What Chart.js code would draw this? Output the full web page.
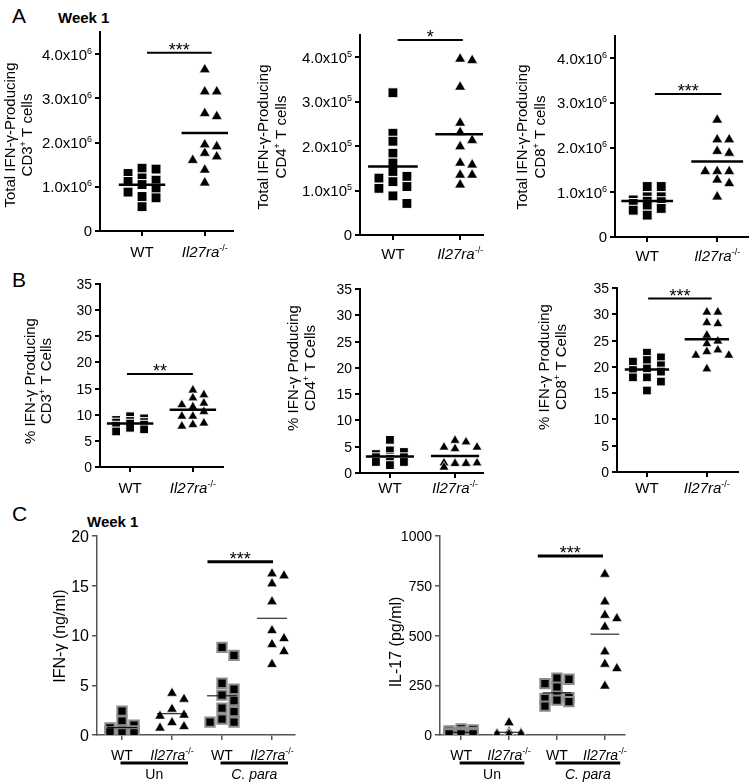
<!DOCTYPE html>
<html>
<head>
<meta charset="utf-8">
<script src="https://cdn.jsdelivr.net/npm/chart.js@4.4.1/dist/chart.umd.min.js"></script>
<style>
html, body { margin: 0; padding: 0; background: #fff; }
#wrap { position: relative; width: 752px; height: 784px; overflow: hidden; font-family: "Liberation Sans", Arial, sans-serif; color: #000; }
#wrap canvas { position: absolute; left: 0; top: 0; }
.tag { position: absolute; line-height: 1; white-space: nowrap; }
</style>
</head>
<body>
<div id="wrap">
  <div class="tag" style="left:12px;top:5px;font-size:21px">A</div>
  <div class="tag" style="left:58px;top:10px;font-size:15px;font-weight:bold">Week 1</div>
  <div class="tag" style="left:12px;top:269px;font-size:21px">B</div>
  <div class="tag" style="left:12px;top:503px;font-size:21px">C</div>
  <div class="tag" style="left:87px;top:514px;font-size:15px;font-weight:bold">Week 1</div>
</div>
<script>
/* ---------- DATA ---------- */
const groupsAB = ["WT", "_Il27ra_^-/-^"];
const groupsC = ["WT", "_Il27ra_^-/-^", "WT", "_Il27ra_^-/-^"];

// A: total IFN-γ producing cells (CD3, CD8 in x10^6, CD4 in x10^5)
const cd3TotalWt = [1.42, 1.40, 1.30, 1.20, 1.15, 1.12, 1.05, 0.95, 0.88, 0.78, 0.75, 0.55];
const cd3TotalKo = [3.65, 3.15, 3.15, 2.66, 2.59, 1.95, 1.91, 1.76, 1.68, 1.60, 1.38, 1.09];
const cd4TotalWt = [3.20, 2.29, 2.11, 1.84, 1.62, 1.43, 1.32, 1.28, 1.20, 1.09, 1.05, 0.88, 0.71];
const cd4TotalKo = [3.96, 3.93, 3.33, 2.52, 2.31, 2.13, 1.99, 1.62, 1.58, 1.35, 1.35, 1.13];
const cd8TotalWt = [1.13, 1.13, 0.90, 0.90, 0.83, 0.80, 0.79, 0.75, 0.71, 0.64, 0.60, 0.49];
const cd8TotalKo = [2.62, 2.18, 2.18, 1.92, 1.88, 1.47, 1.47, 1.47, 1.28, 1.20, 0.90];
const ticksTotal = [0, 1, 2, 3, 4];

// B: % IFN-γ producing
const cd3PctWt = [9.7, 9.3, 9.0, 8.8, 8.6, 8.5, 8.3, 8.1, 7.9, 7.5, 7.2, 6.8];
const cd3PctKo = [14.7, 13.8, 13.2, 12.2, 11.9, 11.5, 10.6, 9.7, 9.7, 8.4, 8.1, 7.8];
const cd4PctWt = [6.3, 4.3, 4.0, 3.6, 3.0, 3.0, 3.0, 2.7, 2.1, 2.1, 2.1, 1.5];
const cd4PctKo = [6.2, 5.9, 4.9, 4.9, 4.6, 1.9, 1.9, 1.9, 1.9, 1.8, 1.8, 1.1];
const cd8PctWt = [22.7, 21.8, 21.3, 21.0, 20.3, 19.7, 19.4, 19.1, 18.0, 18.0, 17.2, 15.5];
const cd8PctKo = [30.4, 30.4, 28.4, 28.2, 26.0, 24.9, 24.4, 23.2, 22.9, 22.2, 22.2, 19.6];
const ticksPct = [0, 5, 10, 15, 20, 25, 30, 35];

// C: cytokines, Un vs C. para
const ifngUnWt = [2.4, 1.4, 1.0, 0.7, 0.5, 0.4, 0.3, 0.3, 0.2, 0.2];
const ifngUnKo = [4.2, 3.6, 2.6, 2.0, 1.9, 1.25, 0.85, 0.7];
const ifngCpWt = [8.8, 8.0, 5.2, 4.6, 4.0, 3.45, 2.7, 2.35, 1.6, 1.3, 1.3];
const ifngCpKo = [16.2, 16.0, 15.2, 13.4, 10.5, 9.7, 9.1, 8.4, 7.1];
const ticksIfng = [0, 5, 10, 15, 20];

const il17UnWt = [30, 25, 20, 15, 12, 10, 8, 6, 5, 5];
const il17UnKo = [62, 15, 10, 8, 5, 5, 3, 3];
const il17CpWt = [285, 280, 258, 240, 195, 188, 182, 175, 168, 145];
const il17CpKo = [808, 669, 602, 585, 543, 418, 356, 334, 246];
const ticksIl17 = [0, 250, 500, 750, 1000];

// significance bars: from/to in group units, y in data units
const sigCd3Total = { from: 1.08, to: 2.11, y: 4.03, label: "***" };
const sigCd4Total = { from: 1.07, to: 2.04, y: 4.39, label: "*" };
const sigCd8Total = { from: 1.11, to: 2.06, y: 3.2, label: "***" };
const sigCd3Pct = { from: 0.95, to: 2.0, y: 17.8, label: "**" };
const sigCd8Pct = { from: 1.02, to: 2.08, y: 33.0, label: "***" };
const sigIfng = { from: 2.71, to: 4.02, y: 17.4, label: "***" };
const sigIl17 = { from: 2.6, to: 3.96, y: 900, label: "***" };

const treatC = [{ text: "Un", from: 1, to: 2 }, { text: "_C. para_", from: 3, to: 4 }];

/* ---------- STYLES ---------- */
const FONT = '"Liberation Sans", Arial, Helvetica, sans-serif';
const styles = {
    A: { axis: "#000", axisW: 2, sqR: 7, sqBorder: "#fff", sqBorderW: 1, triR: 6.2, meanW: 2.5, meanHalf: 0.37, sigW: 2,
         sqStep: 7, sqK: 4, triStep: 12, triK: 2, gap: 8 },
    B: { axis: "#000", axisW: 2, sqR: 6.2, sqBorder: "#fff", sqBorderW: 1, triR: 5.6, meanW: 2.5, meanHalf: 0.37, sigW: 2,
         sqStep: 7, sqK: 4, triStep: 11, triK: 3, gap: 7 },
    C: { axis: "#555", axisW: 1.5, sqR: 6.6, sqBorder: "#8a8a8a", sqBorderW: 2, triR: 6, meanW: 1, meanHalf: 0.3, sigW: 3,
         sqStep: 12, sqK: 2, triStep: 12, triK: 2, gap: 8 }
};

const sciFmt = exp => v => v ? v.toFixed(1) + "x10^" + exp + "^" : "0";
const plainFmt = v => String(v);

const panels = [
    { style: "A", groups: [cd3TotalWt, cd3TotalKo], names: groupsAB, shapes: ["rect", "triangle"],
      box: [100, 32, 233, 231], xRange: [0.33, 2.45], yMax: 4.5, yTicks: ticksTotal, fmt: sciFmt(6), tickSize: 15,
      title: ["Total IFN-γ-Producing", "CD3^+^ T cells"], titleX: [10, 27], titleY: 135, titleSize: 15,
      labelY: 252, labelSize: 15, sig: sigCd3Total },
    { style: "A", groups: [cd4TotalWt, cd4TotalKo], names: groupsAB, shapes: ["rect", "triangle"],
      box: [360, 35, 483, 235], xRange: [0.51, 2.34], yMax: 4.5, yTicks: ticksTotal, fmt: sciFmt(5), tickSize: 15,
      title: ["Total IFN-γ-Producing", "CD4^+^ T cells"], titleX: [263, 281], titleY: 137, titleSize: 15,
      labelY: 254, labelSize: 15, sig: sigCd4Total },
    { style: "A", groups: [cd8TotalWt, cd8TotalKo], names: groupsAB, shapes: ["rect", "triangle"],
      box: [615, 36, 748, 237], xRange: [0.54, 2.44], yMax: 4.5, yTicks: ticksTotal, fmt: sciFmt(6), tickSize: 15,
      title: ["Total IFN-γ-Producing", "CD8^+^ T cells"], titleX: [522, 540], titleY: 137, titleSize: 15,
      labelY: 256, labelSize: 15, sig: sigCd8Total },
    { style: "B", groups: [cd3PctWt, cd3PctKo], names: groupsAB, shapes: ["rect", "triangle"],
      box: [100, 284, 223, 467], xRange: [0.52, 2.48], yMax: 35, yTicks: ticksPct, fmt: plainFmt, tickSize: 14,
      title: ["% IFN-γ Producing", "CD3^+^ T Cells"], titleX: [30, 46], titleY: 381, titleSize: 15,
      labelY: 488, labelSize: 15, sig: sigCd3Pct },
    { style: "B", groups: [cd4PctWt, cd4PctKo], names: groupsAB, shapes: ["rect", "triangle"],
      box: [360, 289, 483, 473], xRange: [0.54, 2.43], yMax: 35, yTicks: ticksPct, fmt: plainFmt, tickSize: 14,
      title: ["% IFN-γ Producing", "CD4^+^ T Cells"], titleX: [293, 310], titleY: 368, titleSize: 15,
      labelY: 488, labelSize: 15, sig: null },
    { style: "B", groups: [cd8PctWt, cd8PctKo], names: groupsAB, shapes: ["rect", "triangle"],
      box: [617, 288, 738, 472], xRange: [0.5, 2.52], yMax: 35, yTicks: ticksPct, fmt: plainFmt, tickSize: 14,
      title: ["% IFN-γ Producing", "CD8^+^ T Cells"], titleX: [544, 561], titleY: 367, titleSize: 15,
      labelY: 488, labelSize: 15, sig: sigCd8Pct },
    { style: "C", groups: [ifngUnWt, ifngUnKo, ifngCpWt, ifngCpKo], names: groupsC, shapes: ["rect", "triangle", "rect", "triangle"],
      box: [97, 536, 295, 735], xRange: [0.5, 4.46], yMax: 20, yTicks: ticksIfng, fmt: plainFmt, tickSize: 16,
      title: ["IFN-γ (ng/ml)"], titleX: [59], titleY: 636, titleSize: 16,
      labelY: 755, labelSize: 14, sig: sigIfng, treat: treatC, underY: 763, treatY: 774 },
    { style: "C", groups: [il17UnWt, il17UnKo, il17CpWt, il17CpKo], names: groupsC, shapes: ["rect", "triangle", "rect", "triangle"],
      box: [440, 536, 625, 735], xRange: [0.56, 4.42], yMax: 1000, yTicks: ticksIl17, fmt: plainFmt, tickSize: 14,
      title: ["IL-17 (pg/ml)"], titleX: [395], titleY: 642, titleSize: 16,
      labelY: 755, labelSize: 14, sig: sigIl17, treat: treatC, underY: 763, treatY: 774 }
];

/* ---------- RICH TEXT: _italic_ and ^superscript^ ---------- */
function parseRich(s) {
    const segs = [];
    let it = false, sup = false, buf = "";
    for (const ch of s) {
        if (ch === "_" || ch === "^") {
            if (buf) segs.push({ t: buf, it, sup });
            buf = "";
            if (ch === "_") it = !it; else sup = !sup;
        } else buf += ch;
    }
    if (buf) segs.push({ t: buf, it, sup });
    return segs;
}

function drawRich(ctx, s, x, y, size, align) {
    const segs = parseRich(s);
    const fontOf = g => (g.it ? "italic " : "") + (g.sup ? Math.round(size * 0.62) : size) + "px " + FONT;
    let w = 0;
    segs.forEach(g => { ctx.font = fontOf(g); g.w = ctx.measureText(g.t).width; w += g.w; });
    let cx = align === "right" ? x - w : align === "center" ? x - w / 2 : x;
    ctx.textAlign = "left";
    ctx.textBaseline = "alphabetic";
    segs.forEach(g => {
        ctx.font = fontOf(g);
        ctx.fillText(g.t, cx, y - (g.sup ? size * 0.4 : 0));
        cx += g.w;
    });
}

/* ---------- SWARM LAYOUT ---------- */
function swarm(chart, st) {
    const xs = chart.scales.x, ys = chart.scales.y;
    chart.data.datasets.forEach(ds => {
        if (!ds.cat) return;
        const tri = ds.pointStyle === "triangle";
        const step = tri ? st.triStep : st.sqStep;
        const maxK = tri ? st.triK : st.sqK;
        const cx = xs.getPixelForValue(ds.cat);
        const placed = [];
        const order = ds.data.map((_, i) => i).sort((a, b) => ds.data[b].y - ds.data[a].y);
        order.forEach(i => {
            const py = ys.getPixelForValue(ds.data[i].y);
            let best = 0, bestScore = -1;
            for (let k = 0; k <= maxK; k++) {
                const off = (k % 2 ? 1 : -1) * Math.ceil(k / 2) * step;
                let score = Infinity;
                placed.forEach(q => {
                    if (Math.abs(q.x - off) < Math.max(step, 10) * 0.9) score = Math.min(score, Math.abs(q.y - py));
                });
                if (score >= st.gap) { best = off; break; }
                if (score > bestScore) { bestScore = score; best = off; }
            }
            placed.push({ x: best, y: py });
            ds.data[i].x = xs.getValueForPixel(cx + best);
        });
    });
    chart.update("none");
}

/* ---------- BUILD PANELS ---------- */
const wrap = document.getElementById("wrap");

function makePanel(p) {
    const st = styles[p.style];
    const cv = document.createElement("canvas");
    cv.width = 752;
    cv.height = 784;
    wrap.appendChild(cv);

    const datasets = [];
    p.groups.forEach((vals, g) => {
        const mean = vals.reduce((a, b) => a + b, 0) / vals.length;
        datasets.push({
            type: "line",
            data: [{ x: g + 1 - st.meanHalf, y: mean }, { x: g + 1 + st.meanHalf, y: mean }],
            borderColor: "#000", borderWidth: st.meanW, pointRadius: 0, order: 0
        });
    });
    p.groups.forEach((vals, g) => {
        const tri = p.shapes[g] === "triangle";
        datasets.push({
            type: "scatter",
            cat: g + 1,
            data: vals.map(v => ({ x: g + 1, y: v })),
            pointStyle: tri ? "triangle" : "rect",
            pointRadius: tri ? st.triR : st.sqR,
            pointHoverRadius: tri ? st.triR : st.sqR,
            backgroundColor: "#000",
            borderColor: tri ? "#fff" : st.sqBorder,
            borderWidth: tri ? 0.6 : st.sqBorderW,
            order: 1
        });
    });
    if (p.sig) {
        datasets.push({
            type: "line",
            data: [{ x: p.sig.from, y: p.sig.y }, { x: p.sig.to, y: p.sig.y }],
            borderColor: "#000", borderWidth: st.sigW, pointRadius: 0, order: 0, clip: false
        });
    }

    const deco = {
        id: "deco",
        afterDraw(chart) {
            const ctx = chart.ctx, xs = chart.scales.x, ys = chart.scales.y;
            ctx.save();
            ctx.fillStyle = "#000";

            // y tick labels
            p.yTicks.forEach(v => {
                drawRich(ctx, p.fmt(v), xs.left - 8, ys.getPixelForValue(v) + p.tickSize * 0.36, p.tickSize, "right");
            });

            // group labels
            p.names.forEach((n, i) => {
                drawRich(ctx, n, xs.getPixelForValue(i + 1), p.labelY + p.labelSize * 0.36, p.labelSize, "center");
            });

            // y title
            p.title.forEach((t, i) => {
                ctx.save();
                ctx.translate(p.titleX[i], p.titleY);
                ctx.rotate(-Math.PI / 2);
                drawRich(ctx, t, 0, p.titleSize * 0.36, p.titleSize, "center");
                ctx.restore();
            });

            // significance stars
            if (p.sig) {
                ctx.font = "18px " + FONT;
                ctx.textAlign = "center";
                ctx.textBaseline = "alphabetic";
                ctx.fillText(p.sig.label, xs.getPixelForValue((p.sig.from + p.sig.to) / 2), ys.getPixelForValue(p.sig.y) + 3);
            }

            // treatment underlines
            if (p.treat) {
                p.treat.forEach(t => {
                    const x1 = xs.getPixelForValue(t.from - 0.03);
                    const x2 = xs.getPixelForValue(t.to + 0.32);
                    ctx.strokeStyle = "#000";
                    ctx.lineWidth = 3;
                    ctx.beginPath();
                    ctx.moveTo(x1, p.underY);
                    ctx.lineTo(x2, p.underY);
                    ctx.stroke();
                    drawRich(ctx, t.text, (x1 + x2) / 2, p.treatY + p.labelSize * 0.36, p.labelSize, "center");
                });
            }
            ctx.restore();
        }
    };

    const chart = new Chart(cv, {
        type: "scatter",
        data: { datasets },
        options: {
            responsive: false,
            animation: false,
            events: [],
            layout: {
                autoPadding: false,
                padding: { left: p.box[0], top: p.box[1], right: 752 - p.box[2], bottom: 784 - p.box[3] }
            },
            plugins: { legend: { display: false }, tooltip: { enabled: false } },
            scales: {
                x: {
                    type: "linear",
                    min: p.xRange[0],
                    max: p.xRange[1],
                    afterBuildTicks: s => { s.ticks = p.names.map((_, i) => ({ value: i + 1 })); },
                    afterFit: s => { s.height = 0; },
                    ticks: { display: false },
                    grid: { drawOnChartArea: false, drawTicks: true, tickLength: 5, color: st.axis, lineWidth: st.axisW },
                    border: { display: true, color: st.axis, width: st.axisW }
                },
                y: {
                    type: "linear",
                    min: 0,
                    max: p.yMax,
                    afterBuildTicks: s => { s.ticks = p.yTicks.map(v => ({ value: v })); },
                    afterFit: s => { s.width = 0; },
                    ticks: { display: false },
                    grid: { drawOnChartArea: false, drawTicks: true, tickLength: 5, color: st.axis, lineWidth: st.axisW },
                    border: { display: true, color: st.axis, width: st.axisW }
                }
            }
        },
        plugins: [deco]
    });

    swarm(chart, st);
    return chart;
}

panels.forEach(makePanel);
</script>
</body>
</html>
